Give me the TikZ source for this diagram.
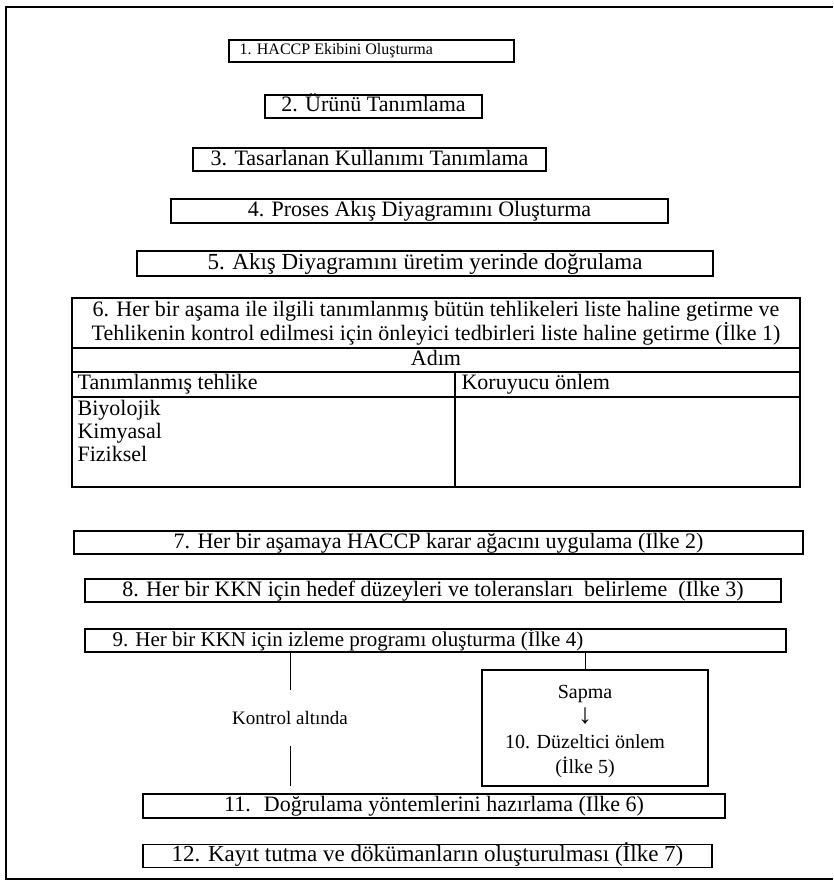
\documentclass[tikz,border=0pt]{standalone}
\usepackage{fontspec}
\setmainfont{Liberation Serif}
\begin{document}
\begin{tikzpicture}[x=1pt,y=-1pt,
  boxline/.style={draw,line width=1.2pt,rectangle,inner sep=0pt},
  stepbox/.style={boxline,text height=15pt,text depth=4pt,
    font=\fontsize{22}{22}\selectfont},
  celltext/.style={inner sep=0pt,font=\fontsize{22}{23}\selectfont,align=left},
  link/.style={line width=1pt}]
\useasboundingbox (0,0) rectangle (833,888);
% outer frame, open on the right
\draw[line width=1.8pt] (833,7) -- (6,7) -- (6,879) -- (833,879);

% steps 1-5
\node[boxline,minimum width=285,minimum height=22] (s1) at (371.5,51) {};
\node[inner sep=0pt,anchor=west,font=\fontsize{16}{16}\selectfont] (s1t) at ([xshift=11pt]s1.west) {1. HACCP Ekibini Oluşturma};
\node[stepbox,minimum width=217,minimum height=23] (s2) at (373.5,106.5) {2. Ürünü Tanımlama};
\node[stepbox,minimum width=353,minimum height=23] (s3) at (369.5,159.5) {3. Tasarlanan Kullanımı Tanımlama};
\node[stepbox,minimum width=497,minimum height=24] (s4) at (419.5,211) {4. Proses Akış Diyagramını Oluşturma};
\node[stepbox,minimum width=576,minimum height=25,font=\fontsize{23}{23}\selectfont] (s5) at (425,263.5) {5. Akış Diyagramını üretim yerinde doğrulama};

% step 6: hazard table
\node[boxline,minimum width=728,minimum height=50,align=center,font=\fontsize{22}{22}\selectfont] (t6) at (436,323)
  {6. Her bir aşama ile ilgili tanımlanmış bütün tehlikeleri liste haline getirme ve\\
   Tehlikenin kontrol edilmesi için önleyici tedbirleri liste haline getirme (İlke 1)};
\node[stepbox,minimum width=728,minimum height=24] (adim) at (436,360) {Adım};
\node[boxline,minimum width=383,minimum height=25] (hL) at (263.5,384.5) {};
\node[boxline,minimum width=345,minimum height=25] (hR) at (627.5,384.5) {};
\node[boxline,minimum width=383,minimum height=90] (bL) at (263.5,442) {};
\node[boxline,minimum width=345,minimum height=90] (bR) at (627.5,442) {};
\node[celltext,anchor=west] (hLt) at ([xshift=6pt]hL.west) {Tanımlanmış tehlike};
\node[celltext,anchor=west] (hRt) at ([xshift=7pt]hR.west) {Koruyucu önlem};
\node[celltext,anchor=north west] (bLt) at ([xshift=6pt,yshift=-4pt]bL.north west) {Biyolojik\\Kimyasal\\Fiziksel};

% steps 7-9
\node[stepbox,minimum width=729,minimum height=23] (s7) at (438.5,542.5) {7. Her bir aşamaya HACCP karar ağacını uygulama (İlke 2)};
\node[stepbox,minimum width=696,minimum height=23] (s8) at (433,590.5) {8. Her bir KKN için hedef düzeyleri ve toleransları\ \ belirleme\ \ (İlke 3)};
\node[boxline,minimum width=701,minimum height=23] (s9) at (435.5,640.5) {};
\node[inner sep=0pt,anchor=west,font=\fontsize{21}{21}\selectfont] (s9t) at ([xshift=28pt]s9.west) {9. Her bir KKN için izleme programı oluşturma (İlke 4)};

% branch: under control / deviation
\node[inner sep=0pt,minimum height=55,font=\fontsize{19}{19}\selectfont] (ok) at (290,718) {Kontrol altında};
\node[boxline,minimum width=226,minimum height=116] (s10) at (595,728) {};
\node[inner sep=0pt,align=center,font=\fontsize{20}{25}\selectfont] (s10t) at (585,731)
  {Sapma\\{\fontsize{28}{25}\selectfont ↓}\\10. Düzeltici önlem\\(İlke 5)};
\coordinate (dev) at (585,0);

% steps 11-12
\node[stepbox,minimum width=582,minimum height=24] (s11) at (434,806) {11.\hspace{0.6em}Doğrulama yöntemlerini hazırlama (İlke 6)};
\node[stepbox,minimum width=569,minimum height=23,font=\fontsize{23}{23}\selectfont] (s12) at (427.5,856) {12. Kayıt tutma ve dökümanların oluşturulması (İlke 7)};

% connectors
\draw[link] (ok |- s9.south) -- (ok.north);
\draw[link,shorten >=7pt] (ok.south) -- (ok |- s11.north);
\draw[link] (dev |- s9.south) -- (dev |- s10.north);
\end{tikzpicture}
\end{document}
